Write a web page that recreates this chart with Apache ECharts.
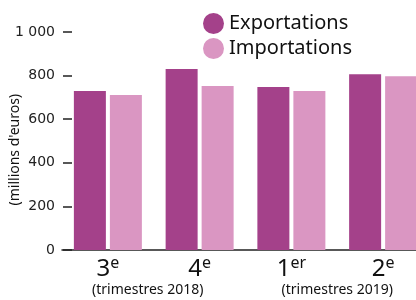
<!DOCTYPE html>
<html>
<head>
<meta charset="utf-8">
<script src="https://cdn.jsdelivr.net/npm/echarts@6/dist/echarts.min.js"></script>
<style>
  html, body { margin: 0; padding: 0; background: #fff; }
  #main { width: 416px; height: 300px; }
</style>
</head>
<body>
<div id="main"></div>
<script>
// trimestres
var categories = ['3', '4', '1', '2'];
var suffixes = ['e', 'e', 'er', 'e'];
// millions d'euros
var exportations = [729, 830, 748, 806];
var importations = [711, 752, 729, 797];
var yearLabels = ['(trimestres 2018)', '(trimestres 2019)'];

var cExp = '#a4418a', cImp = '#da96c2';
var myChart = echarts.init(document.getElementById('main'));

var option = {
    animation: false,
    backgroundColor: '#fff',
    grid: { left: 62, right: -13, top: 32, bottom: 50, outerBoundsMode: 'none' },
    legend: {
        orient: 'vertical',
        left: 198,
        top: 8,
        icon: 'circle',
        itemWidth: 21,
        itemHeight: 21,
        itemGap: 4,
        textStyle: { fontFamily: 'Noto Sans', fontSize: 20, color: '#111' },
        data: ['Exportations', 'Importations']
    },
    xAxis: {
        type: 'category',
        data: categories,
        axisTick: { show: false },
        axisLine: { lineStyle: { color: '#222', width: 1.5 } },
        axisLabel: {
            margin: 5,
            formatter: function (v, i) {
                return '{n|' + v + '}{s|' + suffixes[i] + '}';
            },
            rich: {
                n: { fontFamily: 'Noto Sans', fontSize: 24, lineHeight: 28, color: '#111' },
                s: { fontFamily: 'Noto Sans', fontSize: 16, lineHeight: 16, verticalAlign: 'top', color: '#111' }
            }
        }
    },
    yAxis: {
        type: 'value',
        min: 0,
        max: 1000,
        interval: 200,
        offset: -10,
        axisLine: { show: false },
        axisTick: { show: true, length: 9, lineStyle: { color: '#222', width: 1.5 } },
        splitLine: { show: false },
        axisLabel: {
            margin: 17,
            fontFamily: 'DejaVu Sans',
            fontSize: 14,
            color: '#222',
            formatter: function (v) {
                return v >= 1000 ? String(v).replace(/(\d)(\d{3})$/, '$1 $2') : String(v);
            }
        }
    },
    series: [
        { name: 'Exportations', type: 'bar', data: exportations, barWidth: 32, barGap: '12.5%', itemStyle: { color: cExp } },
        { name: 'Importations', type: 'bar', data: importations, barWidth: 32, itemStyle: { color: cImp } }
    ]
};
myChart.setOption(option);

// textes sous l'axe + titre de l'axe
var p0 = myChart.convertToPixel({ xAxisIndex: 0 }, 0);
var p1 = myChart.convertToPixel({ xAxisIndex: 0 }, 1);
var p2 = myChart.convertToPixel({ xAxisIndex: 0 }, 2);
var p3 = myChart.convertToPixel({ xAxisIndex: 0 }, 3);
var yMid = myChart.convertToPixel({ yAxisIndex: 0 }, 460);
myChart.setOption({
    graphic: [
        { type: 'text', x: (p0 + p1) / 2 - 6, y: 290, style: { text: yearLabels[0], fontFamily: 'Noto Sans', fontSize: 14, fill: '#111', align: 'center', verticalAlign: 'middle' } },
        { type: 'text', x: (p2 + p3) / 2, y: 290, style: { text: yearLabels[1], fontFamily: 'Noto Sans', fontSize: 14, fill: '#111', align: 'center', verticalAlign: 'middle' } },
        { type: 'text', x: 15, y: yMid, rotation: Math.PI / 2, style: { text: "(millions d'euros)", fontFamily: 'Noto Sans', fontSize: 14, fill: '#111', align: 'center', verticalAlign: 'middle' } }
    ]
});
</script>
</body>
</html>
